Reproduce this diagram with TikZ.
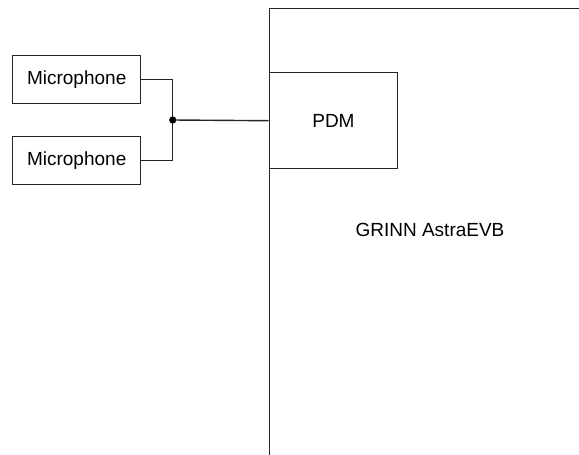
\documentclass[tikz,border=0pt]{standalone}
\usepackage{fontspec}
\setmainfont{Liberation Sans}
\begin{document}
\begin{tikzpicture}[x=1pt,y=-1pt,
  box/.style={draw=black!85, line width=1.4pt, fill=white, inner sep=0pt, font=\fontsize{19}{22}\selectfont},
  wire/.style={draw=black!85, line width=1.4pt},
  lbl/.style={inner sep=0pt, font=\fontsize{19}{22}\selectfont}]
\useasboundingbox (0,0) rectangle (579,455);
\clip (0,0) rectangle (579,455);
\node[box, minimum width=340pt, minimum height=480pt, anchor=north west] (board) at (268.5,7.5) {};
\node[lbl] (boardlbl) at (430,230) {GRINN AstraEVB};
\node[box, minimum width=128.5pt, minimum height=96pt, anchor=north west] (pdm) at (268.5,72) {PDM};
\node[box, minimum width=128pt, minimum height=47.5pt] (mic1) at (76.7,79.5) {Microphone};
\node[box, minimum width=128pt, minimum height=47.5pt] (mic2) at (76.7,160.5) {Microphone};
\coordinate (j) at (172.7,120);
\draw[wire] (mic1.east) -| (j);
\draw[wire] (mic2.east) -| (j);
\draw[wire] (j) -- (pdm.west);
\fill[black] (j) circle (3.6pt);
\end{tikzpicture}
\end{document}
